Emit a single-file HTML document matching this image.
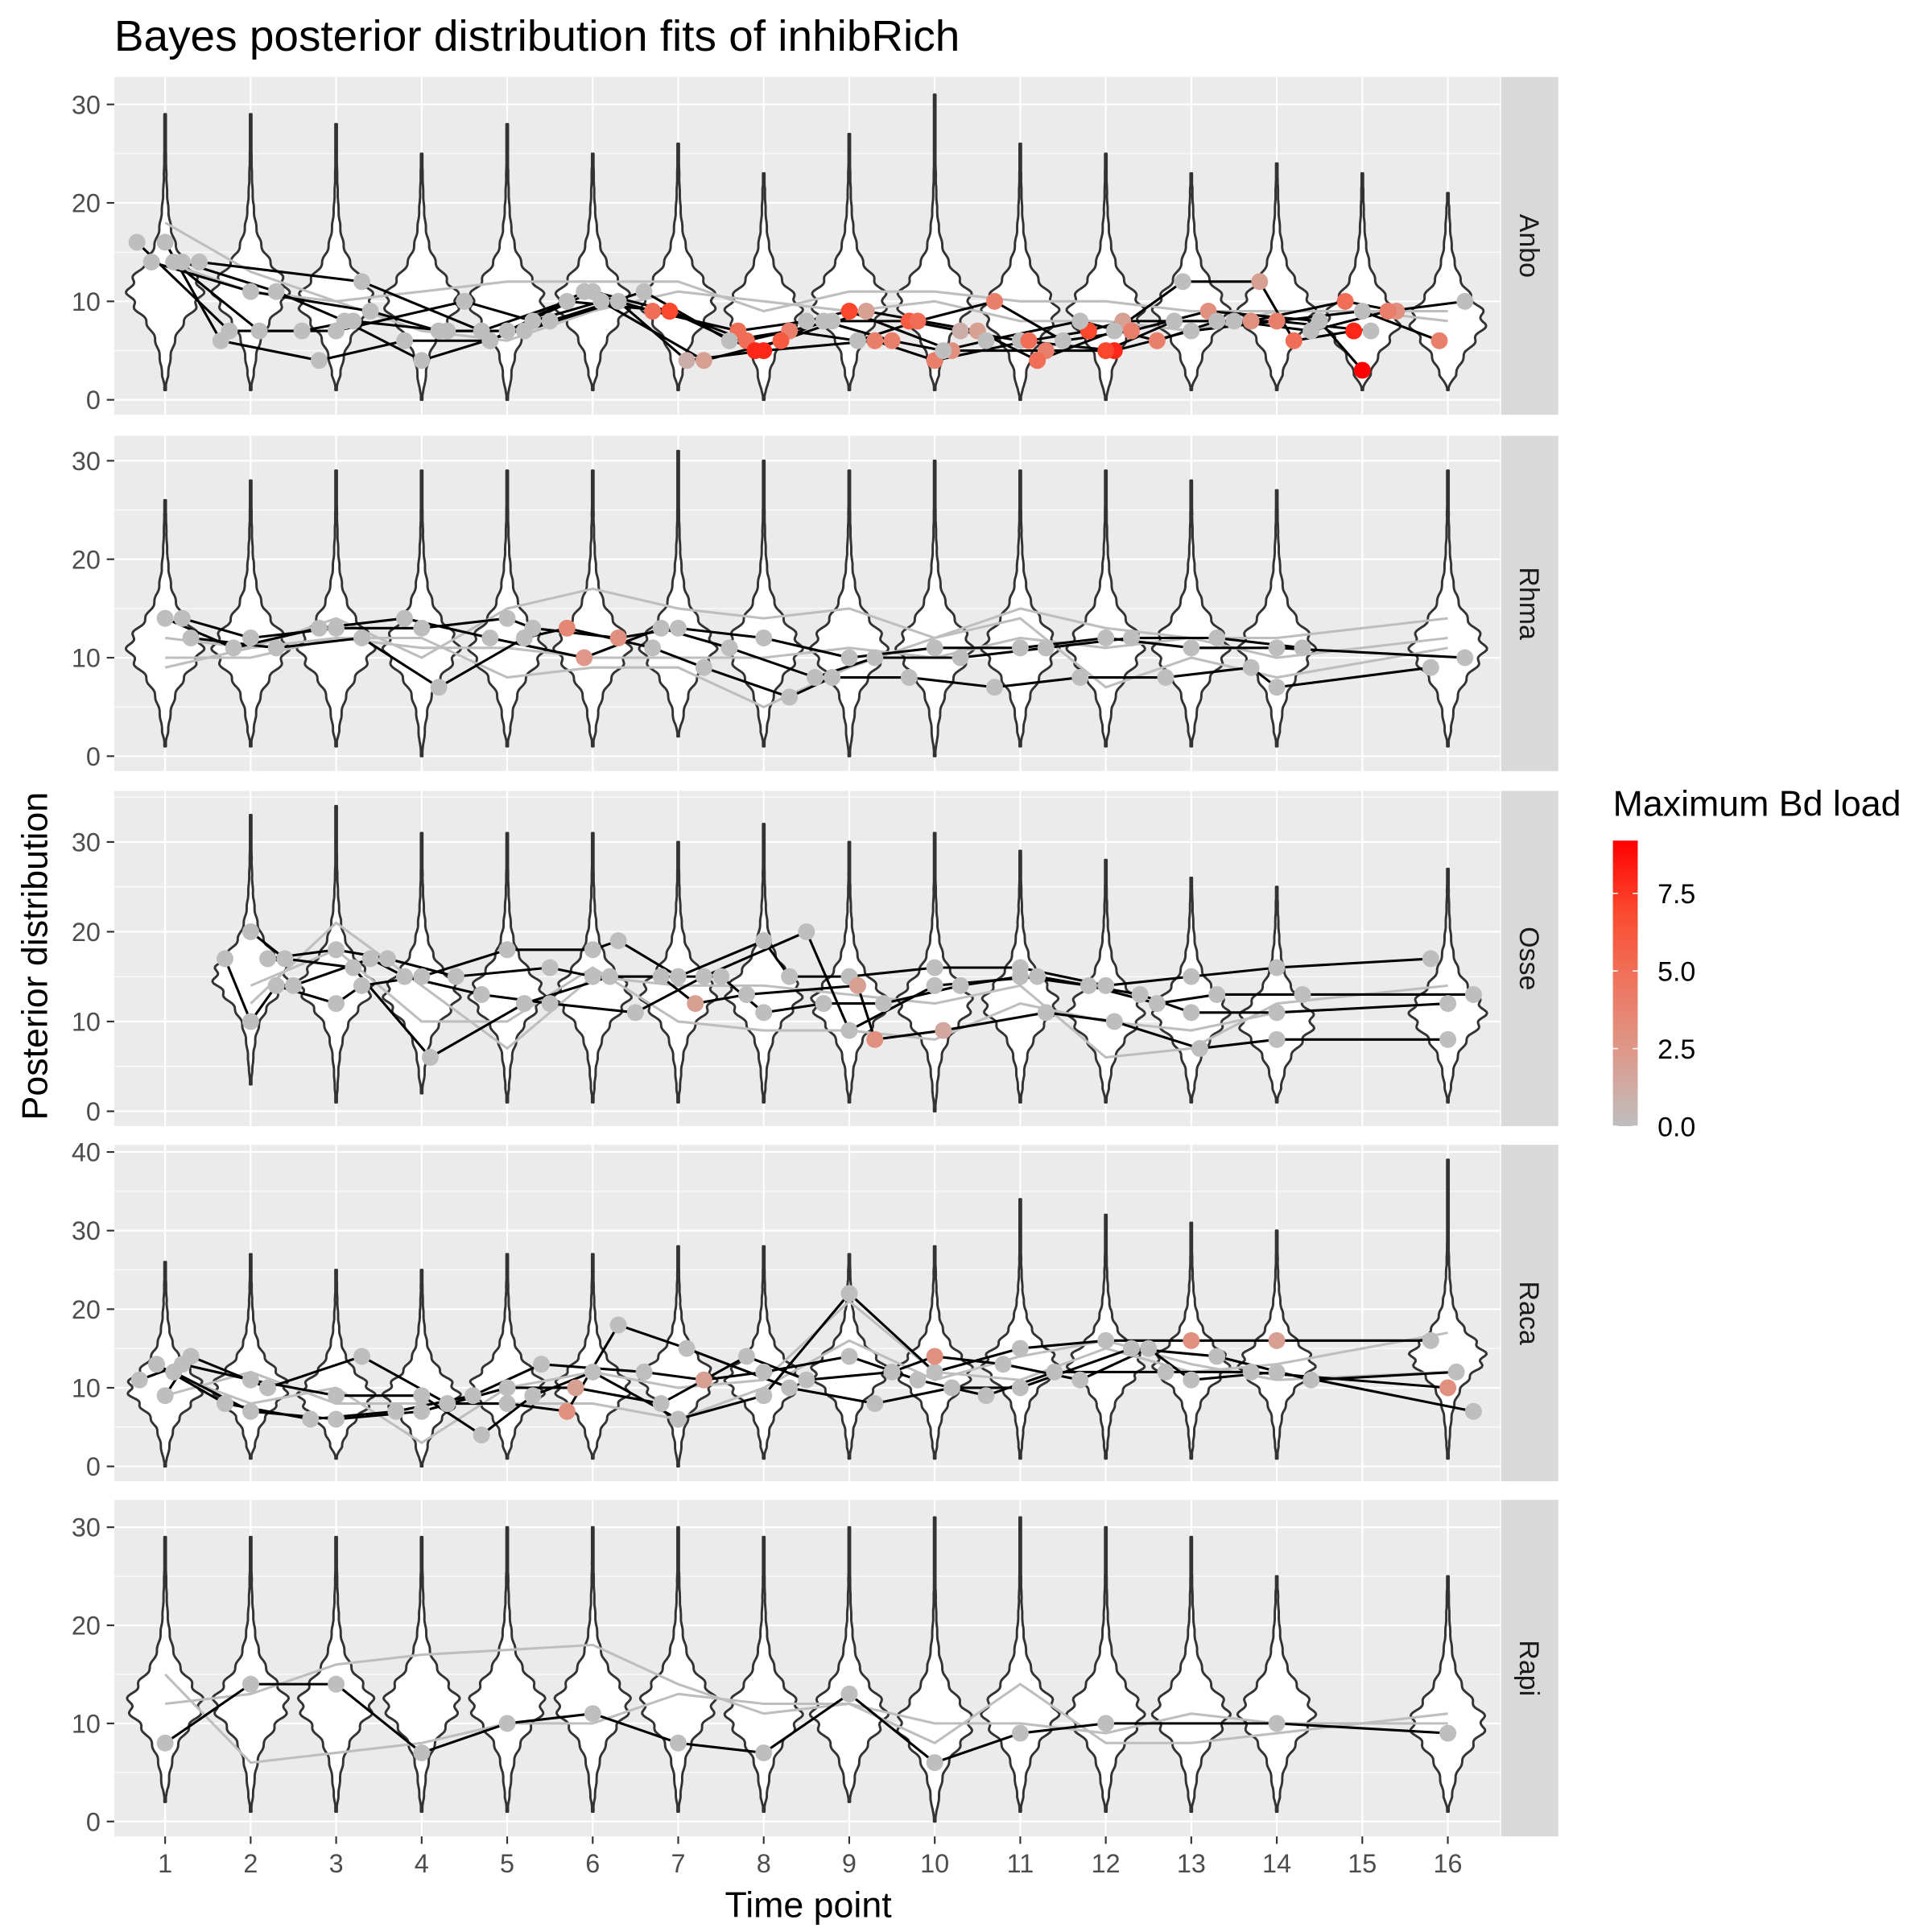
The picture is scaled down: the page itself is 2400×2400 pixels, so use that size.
<!DOCTYPE html>
<html><head><meta charset="utf-8">
<style>
html,body{margin:0;padding:0;background:#fff;}
svg{display:block;font-family:"Liberation Sans",sans-serif;}
</style></head>
<body>
<svg id="chart" width="2400" height="2400" viewBox="0 0 1556 1556" xmlns="http://www.w3.org/2000/svg">
<text x="92" y="41" font-size="35" fill="#000" textLength="681" lengthAdjust="spacingAndGlyphs">Bayes posterior distribution fits of inhibRich</text>
<text x="651" y="1544" font-size="29" text-anchor="middle" fill="#000">Time point</text>
<text transform="translate(38,770) rotate(-90)" font-size="29" text-anchor="middle" fill="#000">Posterior distribution</text>
<g id="panels"></g>
<g id="legend"></g>
</svg>
<script>
// ---- data ----
const species = ["Anbo","Rhma","Osse","Raca","Rapi"];
const timePoints = [1,2,3,4,5,6,7,8,9,10,11,12,13,14,15,16];
const yTicksA = [0,10,20,30];
const yTicksB = [0,10,20,30,40];
const legendTicks = [0,2.5,5,7.5];
const bdMax = 9.2;

const vTimes1 = [1,2,3,4,5,6,7,8,9,10,11,12,13,14,15,16];
const vHi1 = [29,29,28,25,28,25,26,23,27,31,26,25,23,24,23,21];
const vLo1 = [1,1,1,0,0,1,1,0,1,1,0,0,1,1,1,1];
const vMode1 = [11,11,10,10,10,10,10,9,10,10,9,9,9,9,8,8];
const vTimes2 = [1,2,3,4,5,6,7,8,9,10,11,12,13,14,16];
const vHi2 = [26,28,29,29,29,29,31,30,29,30,29,29,28,27,29];
const vLo2 = [1,1,1,0,1,1,2,1,0,0,1,1,1,1,1];
const vMode2 = [11,11,11,11,11,11,11,11,11,11,11,11,11,11,11];
const vTimes3 = [2,3,4,5,6,7,8,9,10,11,12,13,14,16];
const vHi3 = [33,34,31,31,31,30,32,30,31,29,28,26,25,27];
const vLo3 = [3,1,2,1,1,1,1,1,0,1,1,1,1,1];
const vMode3 = [15,14,13,13,13,13,13,12,12,12,11,11,10,11];
const vTimes4 = [1,2,3,4,5,6,7,8,9,10,11,12,13,14,16];
const vHi4 = [26,27,25,25,27,27,28,28,27,28,34,32,31,30,39];
const vLo4 = [0,1,1,0,1,1,0,1,1,1,1,1,1,1,1];
const vMode4 = [10,10,9,9,10,10,11,11,12,12,13,13,13,13,14];
const vTimes5 = [1,2,3,4,5,6,7,8,9,10,11,12,13,14,16];
const vHi5 = [29,29,29,29,30,30,30,29,30,31,31,30,29,25,25];
const vLo5 = [2,1,1,1,1,1,1,1,2,0,1,1,1,1,1];
const vMode5 = [12,12,12,12,12,12,12,11,11,10,11,11,11,11,10];

const p1LineA = [[0.67,16],[1.75,7],[2.6,7],[3.2,8],[4.3,7],[5,7],[6,11],[6.9,9],[7.8,6],[8.8,8],[9.7,8],[10.3,7],[11,6],[12.1,5],[13,7],[14,8],[15,9],[15.9,6]];
const p1BdA = [0,0,0,0,0,0,0,6,5,0,6,1,0,8,0,0,0,4];
const p1LineB = [[1,16],[1.65,6],[2.8,4],[3.8,6],[4.8,6],[5.9,11],[6.7,9],[7.7,7],[8.5,8],[9,9],[10.2,5],[11.3,5],[12,5],[12.8,8],[13.7,8],[14.8,10],[15.4,9]];
const p1BdB = [0,0,0,0,0,0,5,5,0,7,3,4,7,0,3,5,3];
const p1LineC = [[0.84,14],[2,11],[3.4,9],[4.2,7],[5.2,7],[6.3,10],[7.1,4],[8,5],[9.3,6],[10,4],[11.1,6],[11.8,7],[12.2,8],[13.5,8],[14.4,7],[15.3,9],[16.2,10]];
const p1BdC = [0,0,0,0,0,0,1,8,4,4,5,7,2,0,0,4,0];
const p1LineD = [[1.2,14],[2.3,11],[3.1,8],[4,4],[5.5,8],[6.6,11],[7.6,6],[8.3,7],[9.1,6],[9.8,8],[10.7,10],[11.5,6],[12.3,7],[13.2,9],[14.5,8],[15,3]];
const p1BdD = [0,0,0,0,0,0,0,4,0,5,4,0,4,3,0,9.2];
const p1LineE = [[1.1,14],[2.1,7],[3,7],[4.5,10],[5.3,8],[6.1,10],[7.3,4],[8.2,6],[9.2,9],[10.5,7],[11.2,4],[12.1,7],[12.9,12],[13.8,12],[14.2,6],[14.9,7]];
const p1BdE = [0,0,0,0,0,0,2,6,2,2,5,0,0,2,5,8];
const p1LineF = [[1.4,14],[3.3,12],[4.7,7],[5.7,10],[6.9,9],[7.9,5],[8.7,8],[9.5,6],[10.1,5],[10.6,6],[11.7,8],[12.6,6],[13.3,8],[14,8],[15.1,7]];
const p1BdF = [0,0,0,0,7,8,0,4,0,0,0,4,0,4,0];
const p1GrayA = [[1,18],[2,13],[3,10],[4,11],[5,12],[6,12],[7,12],[8,9],[9,11],[10,11],[11,10],[12,10],[13,9],[14,9],[15,9],[16,8]];
const p1GrayB = [[1,14],[2,11],[3,10],[4,7],[5,6],[6,9],[7,11],[8,10],[9,9],[10,10],[11,8],[12,8],[13,7],[14,9],[15,9],[16,9]];

const p2LineA = [[1.2,14],[2,12],[3,13],[4,13],[5,14],[5.3,13],[6.3,12],[7,13],[8,12],[9,10],[10,11],[11,11],[12,12],[13,11],[14,11],[16.2,10]];
const p2BdA = [0,0,0,0,0,0,3,0,0,0,0,0,0,0,0,0];
const p2LineB = [[1.3,12],[2.3,11],[3.3,12],[4.2,7],[5.2,12],[5.7,13],[6.7,11],[7.3,9],[8.3,6],[8.8,8],[9.7,8],[10.7,7],[11.7,8],[12.7,8],[13.7,9],[14,7],[15.8,9]];
const p2BdB = [0,0,0,0,0,3.5,0,0,0,0,0,0,0,0,0,0,0];
const p2LineC = [[1,14],[1.8,11],[2.8,13],[3.8,14],[4.8,12],[5.9,10],[6.8,13],[7.6,11],[8.6,8],[9.3,10],[10.3,10],[11.3,11],[12.3,12],[13.3,12],[14.3,11]];
const p2BdC = [0,0,0,0,0,2.5,0,0,0,0,0,0,0,0,0];
const p2GrayA = [[1,9],[2,11],[3,12],[4,11],[5,11],[6,10],[7,10],[8,10],[9,11],[10,10],[11,12],[12,11],[13,12],[14,12],[16,14]];
const p2GrayB = [[1,12],[2,11],[3,14],[4,10],[5,15],[6,17],[7,15],[8,14],[9,15],[10,12],[11,15],[12,13],[13,12],[14,10],[16,12]];
const p2GrayC = [[1,10],[2,10],[3,12],[4,12],[5,8],[6,9],[7,9],[8,5],[9,9],[10,12],[11,14],[12,7],[13,10],[14,8],[16,11]];

const p3LineA = [[1.7,17],[2,10],[2.3,14],[3,12],[3.3,14],[4,15],[5,18],[6,18],[6.3,19],[7,15],[8,19],[8.3,15],[9,15],[10,16],[11,16],[12,14],[13,15],[14,16],[15.8,17]];
const p3BdA = [0,0,0,0,0,0,0,0,0,0,0,0,0,0,0,0,0,0,0];
const p3LineB = [[2,20],[2.4,17],[3.2,16],[4.1,6],[5.2,12],[6.2,15],[6.8,15],[7.2,12],[7.8,13],[9.1,14],[9.3,8],[10.1,9],[11.3,11],[12.1,10],[13.1,7],[14,8],[16,8]];
const p3BdB = [0,0,0,0,0,0,0,2,0,2,3,1.5,0,0,0,0,0];
const p3LineC = [[2.2,17],[3,18],[3.6,17],[4.4,15],[5.5,16],[6,15],[7.5,15],[8,11],[8.7,12],[9.4,12],[10.3,14],[11,15],[11.8,14],[12.6,12],[13.3,13],[14.3,13],[16.3,13]];
const p3BdC = [0,0,0,0,0,0,0,0,0,0,0,0,0,0,0,0,0];
const p3LineD = [[2.5,14],[3.4,17],[3.8,15],[4.7,13],[5.5,12],[6.5,11],[7.3,15],[8.5,20],[9,9],[10,14],[11.2,15],[12.4,13],[13,11],[14,11],[16,12]];
const p3BdD = [0,0,0,0,0,0,0,0,0,0,0,0,0,0,0];
const p3GrayA = [[2,12],[3,21],[4,14],[5,7],[6,15],[7,14],[8,14],[9,13],[10,12],[11,14],[12,6],[13,7],[14,12],[16,14]];
const p3GrayB = [[2,14],[3,18],[4,10],[5,10],[6,16],[7,10],[8,9],[9,9],[10,8],[11,12],[12,10],[13,9],[14,11],[16,12]];

const p4LineA = [[0.7,11],[1.2,13],[2,11],[3,9],[4,9],[4.7,4],[5.3,9],[6,12],[7,6],[8,9],[9,22],[10,12],[11,15],[12,16],[13,16],[14,16],[15.8,16]];
const p4BdA = [0,0,0,0,0,0,0,0,0,0,0,0,0,0,3,2,0];
const p4LineB = [[1,9],[1.3,14],[2.2,10],[3.3,14],[4.3,8],[5,8],[5.7,7],[6.3,18],[7.1,15],[8.3,10],[9.3,8],[10.2,10],[11,10],[12.3,15],[13.3,14],[14.4,11],[16.1,12]];
const p4BdB = [0,0,0,0,0,0,3,0,0,0,0,0,0,0,0,0,0];
const p4LineC = [[0.9,13],[1.7,8],[2.7,6],[3.7,7],[4.6,9],[5.4,13],[6.6,12],[7.3,11],[8,12],[9,14],[9.8,11],[10.6,9],[11.4,12],[12.7,12],[13.7,12],[16,10]];
const p4BdC = [0,0,0,0,0,0,0,2,0,0,0,0,0,0,0,3];
const p4LineD = [[1.1,12],[2,7],[3,6],[4,7],[5,10],[5.8,10],[6.8,8],[7.8,14],[8.5,11],[9.5,12],[10,14],[10.8,13],[11.7,11],[12.5,15],[13,11],[14,12],[16.3,7]];
const p4BdD = [0,0,0,0,0,2,0,0,0,0,3,0,0,0,0,0,0];
const p4GrayA = [[1,12],[2,8],[3,10],[4,3],[5,10],[6,12],[7,10],[8,11],[9,21],[10,12],[11,11],[12,15],[13,12],[14,13],[16,17]];
const p4GrayB = [[1,9],[2,12],[3,8],[4,8],[5,8],[6,8],[7,6],[8,10],[9,16],[10,11],[11,14],[12,16],[13,13],[14,11],[16,12]];

const p5LineA = [[1,8],[2,14],[3,14],[4,7],[5,10],[6,11],[7,8],[8,7],[9,13],[10,6],[11,9],[12,10],[14,10],[16,9]];
const p5BdA = [0,0,0,0,0,0,0,0,0,0,0,0,0,0];
const p5GrayA = [[1,15],[2,6],[3,7],[4,8],[5,10],[6,10],[7,13],[8,12],[9,12],[10,8],[11,14],[12,8],[13,8],[14,9],[16,11]];
const p5GrayB = [[1,12],[2,13],[3,16],[4,17],[5,17.5],[6,18],[7,14],[8,11],[9,12],[10,10],[11,10],[12,9],[13,11],[14,10],[16,10]];

// ---- layout ----
const NS = "http://www.w3.org/2000/svg";
const PL = 92, PR = 1208;
const panels = [
 {top:62,bot:334,y0:322,k:7.93,ticks:yTicksA,vt:vTimes1,vh:vHi1,vl:vLo1,vm:vMode1,
  lines:[[p1LineA,p1BdA],[p1LineB,p1BdB],[p1LineC,p1BdC],[p1LineD,p1BdD],[p1LineE,p1BdE],[p1LineF,p1BdF]],gray:[p1GrayA,p1GrayB]},
 {top:351,bot:621,y0:609,k:7.93,ticks:yTicksA,vt:vTimes2,vh:vHi2,vl:vLo2,vm:vMode2,
  lines:[[p2LineA,p2BdA],[p2LineB,p2BdB],[p2LineC,p2BdC]],gray:[p2GrayA,p2GrayB,p2GrayC]},
 {top:637,bot:907,y0:895,k:7.23,ticks:yTicksA,vt:vTimes3,vh:vHi3,vl:vLo3,vm:vMode3,
  lines:[[p3LineA,p3BdA],[p3LineB,p3BdB],[p3LineC,p3BdC],[p3LineD,p3BdD]],gray:[p3GrayA,p3GrayB]},
 {top:922,bot:1193,y0:1181,k:6.33,ticks:yTicksB,vt:vTimes4,vh:vHi4,vl:vLo4,vm:vMode4,
  lines:[[p4LineA,p4BdA],[p4LineB,p4BdB],[p4LineC,p4BdC],[p4LineD,p4BdD]],gray:[p4GrayA,p4GrayB]},
 {top:1208,bot:1479,y0:1467,k:7.9,ticks:yTicksA,vt:vTimes5,vh:vHi5,vl:vLo5,vm:vMode5,
  lines:[[p5LineA,p5BdA]],gray:[p5GrayA,p5GrayB]}
];
const xs = t => 133 + (t-1)*68.87;
const cStops=[[190,190,190],[220,154,140],[238,118,96],[251,74,46],[255,0,0]];
function bdColor(b){
  const f=Math.max(0,Math.min(1,b/bdMax))*4;
  const i=Math.min(3,Math.floor(f)), u=f-i;
  const a=cStops[i], c=cStops[i+1];
  return `rgb(${Math.round(a[0]+(c[0]-a[0])*u)},${Math.round(a[1]+(c[1]-a[1])*u)},${Math.round(a[2]+(c[2]-a[2])*u)})`;
}
function mk(tag,attrs,parent){const e=document.createElementNS(NS,tag);for(const k in attrs)e.setAttribute(k,attrs[k]);parent.appendChild(e);return e;}
const root=document.getElementById("panels");

panels.forEach((p,pi)=>{
  const ys=v=>p.y0-v*p.k;
  const g=mk("g",{},root);
  
  
  const bg=mk("rect",{x:PL,y:p.top,width:PR-PL,height:p.bot-p.top,fill:"#ebebeb"},g);
  
  
  const step=p.ticks[1]-p.ticks[0];
  for(let v=p.ticks[0]-step/2; v<=p.ticks[p.ticks.length-1]+step/2; v+=step){
    const y=ys(v); if(y<p.top||y>p.bot) continue;
    mk("line",{x1:PL,x2:PR,y1:y,y2:y,stroke:"#fff","stroke-width":0.7},g);
  }
  p.ticks.forEach(v=>{
    const y=ys(v);
    mk("line",{x1:PL,x2:PR,y1:y,y2:y,stroke:"#fff","stroke-width":1.4},g);
    mk("line",{x1:86,x2:92,y1:y,y2:y,stroke:"#333","stroke-width":1.4},g);
    const t=mk("text",{x:81,y:y+7.5,"font-size":21,"text-anchor":"end",fill:"#4d4d4d"},g);
    t.textContent=v;
    
    
  });
  timePoints.forEach(tp=>{
    mk("line",{x1:xs(tp),x2:xs(tp),y1:p.top,y2:p.bot,stroke:"#fff","stroke-width":1.4},g);
  });
  p.vt.forEach((tp,i)=>{
    const lo=p.vl[i], hi=p.vh[i], m=p.vm[i], W=29, cx=xs(tp);
    const right=[], left=[];
    const N=160;
    for(let j=0;j<=N;j++){
      const v=lo+(hi-lo)*j/N;
      const d=(v-m)/4.2;
      let w=W/Math.pow(1+d*d*0.9,1.6);
      w*= (1+0.09*Math.sin(v*3.6));
      const edge=Math.min(v-lo,hi-v);
      if(edge<1.5) w*=Math.max(0.05,edge/1.5);
      w=Math.max(w,0.6);
      right.push([cx+w,ys(v)]); left.push([cx-w,ys(v)]);
    }
    const pts=right.concat(left.reverse()).map(q=>q[0].toFixed(1)+","+q[1].toFixed(1)).join(" ");
    const vp=mk("polygon",{points:pts,fill:"#fff",stroke:"#333","stroke-width":1.9,"stroke-linejoin":"round"},g);
    
    
  });
  p.gray.forEach(s=>{
    const pl=mk("polyline",{points:s.map(q=>xs(q[0]).toFixed(1)+","+ys(q[1]).toFixed(1)).join(" "),fill:"none",stroke:"#bebebe","stroke-width":2},g);
    
    
  });
  p.lines.forEach(([s])=>{
    const pl=mk("polyline",{points:s.map(q=>xs(q[0]).toFixed(1)+","+ys(q[1]).toFixed(1)).join(" "),fill:"none",stroke:"#000","stroke-width":2},g);
    
    
  });
  p.lines.forEach(([s,bd])=>{
    s.forEach((q,k)=>{
      const c=mk("circle",{cx:xs(q[0]).toFixed(1),cy:ys(q[1]).toFixed(1),r:6.8,fill:bdColor(bd[k])},g);
      
      
    });
  });
  const st=mk("rect",{x:1209,y:p.top,width:46,height:p.bot-p.top,fill:"#d9d9d9"},g);
  
  
  const cy=(p.top+p.bot)/2;
  const tx=mk("text",{transform:`translate(1224,${cy}) rotate(90)`,"font-size":22,"text-anchor":"middle",fill:"#1a1a1a"},g);
  tx.textContent=species[pi];
  
  
});
timePoints.forEach(tp=>{
  mk("line",{x1:xs(tp),x2:xs(tp),y1:1479,y2:1485,stroke:"#333","stroke-width":1.4},root);
  const t=mk("text",{x:xs(tp),y:1508,"font-size":21,"text-anchor":"middle",fill:"#4d4d4d"},root);
  t.textContent=tp;
  
  
});
const lg=document.getElementById("legend");
const lt=mk("text",{x:1299,y:657,"font-size":29,fill:"#000"},lg);
lt.textContent="Maximum Bd load";


const defs=mk("defs",{},lg);
const grad=mk("linearGradient",{id:"bdgrad",x1:0,y1:1,x2:0,y2:0},defs);
for(let i=0;i<=20;i++){mk("stop",{offset:i/20,"stop-color":bdColor(bdMax*i/20)},grad);}
const barTop=677, barBot=907;
const bar=mk("rect",{x:1299,y:barTop,width:20,height:barBot-barTop,fill:"url(#bdgrad)"},lg);


legendTicks.forEach(v=>{
  const y=barBot-(barBot-barTop)*v/bdMax;
  mk("line",{x1:1299,x2:1303,y1:y,y2:y,stroke:"#fff","stroke-width":1},lg);
  mk("line",{x1:1315,x2:1319,y1:y,y2:y,stroke:"#fff","stroke-width":1},lg);
  const t=mk("text",{x:1335,y:y+8,"font-size":22,fill:"#000"},lg);
  t.textContent=v.toFixed(1);
  
  
});
</script>
</body></html>
